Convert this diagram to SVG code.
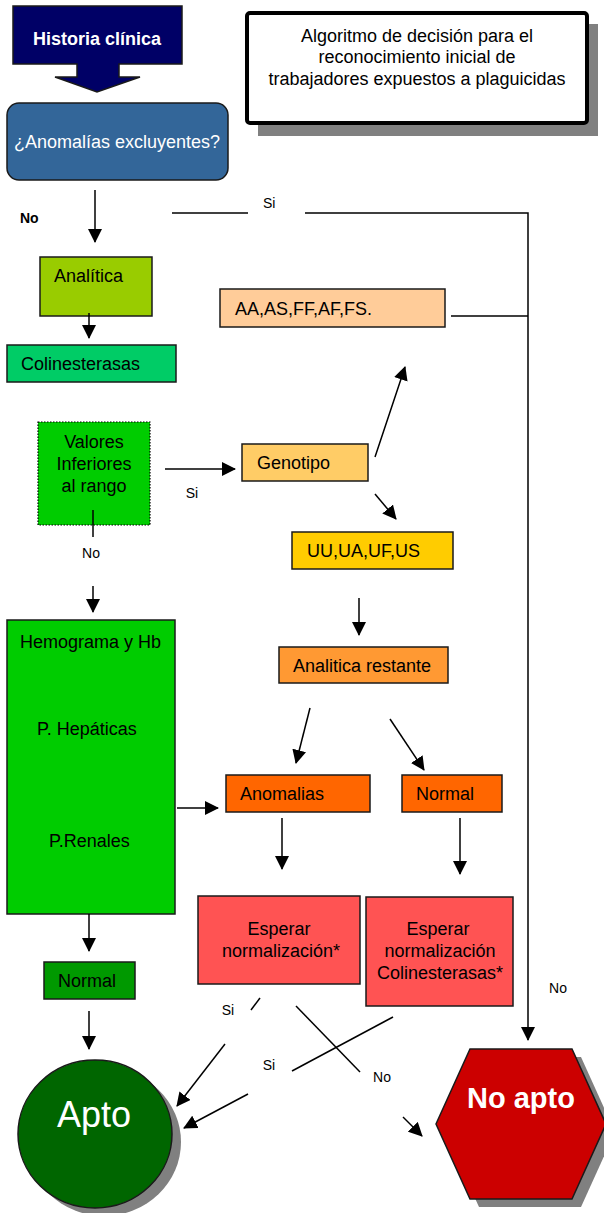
<svg xmlns="http://www.w3.org/2000/svg" width="604" height="1213" viewBox="0 0 604 1213">
<style>
text{font-family:"Liberation Sans",Arial,sans-serif;font-size:18px;fill:#000}
.box{stroke:#1a1a1a;stroke-width:1.5}
.c{stroke:#000;stroke-width:1.5;fill:none}
.a{marker-end:url(#ah)}
.lbl{font-size:14px}
.w{fill:#fff}
.m{text-anchor:middle}
.sh{fill:#808080}
</style>
<defs>
<marker id="ah" viewBox="0 0 14 14" refX="13" refY="7" markerWidth="14" markerHeight="14" markerUnits="userSpaceOnUse" orient="auto">
<path d="M0,0 L14,7 L0,14 z" fill="#000"/>
</marker>
</defs>
<rect width="604" height="1213" fill="#fff"/>

<g id="title">
<rect class="sh" x="258" y="24" width="340" height="112"/>
<rect x="247" y="13" width="340" height="110" rx="3" fill="#fff" stroke="#000" stroke-width="4"/>
<text class="m" x="417" y="42">Algoritmo de decisión para el</text>
<text class="m" x="417" y="63">reconocimiento inicial de</text>
<text class="m" x="417" y="85">trabajadores expuestos a plaguicidas</text>
</g>

<g id="historia">
<polygon class="box" fill="#000066" points="13,6 182,6 182,64 119,64 119,77 140,77 97,92 55,77 77,77 77,64 13,64"/>
<text class="w m" x="97" y="45" style="font-weight:bold">Historia clínica</text>
</g>

<g id="anomalias-excl">
<rect class="box" x="7" y="103" width="221" height="77" rx="12" fill="#336699"/>
<text class="w m" x="117" y="148">¿Anomalías excluyentes?</text>
</g>

<g id="analitica">
<rect class="box" x="40" y="257" width="112" height="59" fill="#99CC00"/>
<text x="54" y="282">Analítica</text>
</g>

<g id="colinesterasas">
<rect class="box" x="7" y="345" width="169" height="37" fill="#00CC66"/>
<text x="21" y="370">Colinesterasas</text>
</g>

<g id="aa">
<rect class="box" x="220" y="289" width="225" height="38" fill="#FFCC99"/>
<text x="235" y="315">AA,AS,FF,AF,FS.</text>
</g>

<g id="valores">
<rect x="38" y="422" width="112" height="103" fill="#00CC00" stroke="#000" stroke-width="1.2" stroke-dasharray="1.5,1.5"/>
<text class="m" x="94" y="448">Valores</text>
<text class="m" x="94" y="470">Inferiores</text>
<text class="m" x="94" y="492">al rango</text>
</g>

<g id="genotipo">
<rect class="box" x="242" y="444" width="126" height="37" fill="#FFCC66"/>
<text x="257" y="469">Genotipo</text>
</g>

<g id="uu">
<rect class="box" x="292" y="532" width="161" height="37" fill="#FFCC00"/>
<text x="307" y="557">UU,UA,UF,US</text>
</g>

<g id="hemograma">
<rect class="box" x="7" y="620" width="168" height="294" fill="#00CC00"/>
<text x="20" y="648">Hemograma y Hb</text>
<text x="37" y="735">P. Hepáticas</text>
<text x="49" y="847">P.Renales</text>
</g>

<g id="analitica-restante">
<rect class="box" x="279" y="647" width="169" height="36" fill="#FF9933"/>
<text x="293" y="672">Analitica restante</text>
</g>

<g id="anomalias">
<rect class="box" x="226" y="775" width="144" height="37" fill="#FF6600"/>
<text x="240" y="800">Anomalias</text>
</g>

<g id="normal-orange">
<rect class="box" x="402" y="775" width="100" height="37" fill="#FF6600"/>
<text x="416" y="800">Normal</text>
</g>

<g id="esperar1">
<rect class="box" x="198" y="896" width="162" height="88" fill="#FF5353"/>
<text class="m" x="279" y="935">Esperar</text>
<text class="m" x="281" y="957">normalización*</text>
</g>

<g id="esperar2">
<rect class="box" x="366" y="897" width="147" height="109" fill="#FF5353"/>
<text class="m" x="438" y="935">Esperar</text>
<text class="m" x="440" y="957">normalización</text>
<text class="m" x="440" y="979">Colinesterasas*</text>
</g>

<g id="normal-green">
<rect class="box" x="44" y="962" width="91" height="37" fill="#009900"/>
<text x="58" y="987">Normal</text>
</g>

<g id="apto">
<ellipse class="sh" cx="104" cy="1142" rx="77" ry="74"/>
<ellipse class="box" cx="95" cy="1134" rx="77" ry="74" fill="#006600"/>
<text class="w m" x="94" y="1127" style="font-size:36px">Apto</text>
</g>

<g id="no-apto">
<polygon class="sh" points="479,1057 581,1057 615,1132 581,1207 479,1207 445,1132"/>
<polygon class="box" points="470,1049 572,1049 606,1124 572,1199 470,1199 436,1124" fill="#CC0000"/>
<text class="w m" x="521" y="1108" style="font-size:29px;font-weight:bold">No apto</text>
</g>

<g id="connectors">
<line class="c a" x1="95" y1="190" x2="95" y2="242"/>
<line class="c" x1="172" y1="213" x2="248" y2="213"/>
<polyline class="c a" points="305,213 528,213 528,1040"/>
<line class="c" x1="451" y1="316" x2="528" y2="316"/>
<line class="c a" x1="89" y1="313" x2="89" y2="338"/>
<line class="c a" x1="165" y1="469" x2="235" y2="469"/>
<line class="c" x1="93" y1="510" x2="93" y2="537"/>
<line class="c a" x1="93" y1="586" x2="93" y2="612"/>
<line class="c a" x1="375" y1="457" x2="405" y2="367"/>
<line class="c a" x1="375" y1="494" x2="396" y2="519"/>
<line class="c a" x1="359" y1="598" x2="359" y2="635"/>
<line class="c a" x1="310" y1="708" x2="296" y2="763"/>
<line class="c a" x1="390" y1="719" x2="424" y2="770"/>
<line class="c a" x1="177" y1="808" x2="218" y2="808"/>
<line class="c a" x1="282" y1="818" x2="282" y2="869"/>
<line class="c a" x1="460" y1="818" x2="460" y2="874"/>
<line class="c a" x1="89" y1="914" x2="89" y2="951"/>
<line class="c a" x1="89" y1="1011" x2="89" y2="1049"/>
<line class="c" x1="260" y1="998" x2="251" y2="1010"/>
<line class="c a" x1="225" y1="1044" x2="177" y2="1106"/>
<line class="c" x1="296" y1="1006" x2="360" y2="1072"/>
<line class="c a" x1="403" y1="1117" x2="422" y2="1136"/>
<line class="c" x1="393" y1="1017" x2="292" y2="1071"/>
<line class="c a" x1="248" y1="1094" x2="184" y2="1128"/>
</g>

<g id="labels">
<text x="20" y="223" style="font-size:14px;font-weight:bold">No</text>
<text class="lbl" x="263" y="208">Si</text>
<text class="lbl m" x="192" y="498">Si</text>
<text class="lbl m" x="91" y="558">No</text>
<text class="lbl m" x="228" y="1015">Si</text>
<text class="lbl m" x="269" y="1070">Si</text>
<text class="lbl m" x="382" y="1082">No</text>
<text class="lbl m" x="558" y="993">No</text>
</g>
</svg>
